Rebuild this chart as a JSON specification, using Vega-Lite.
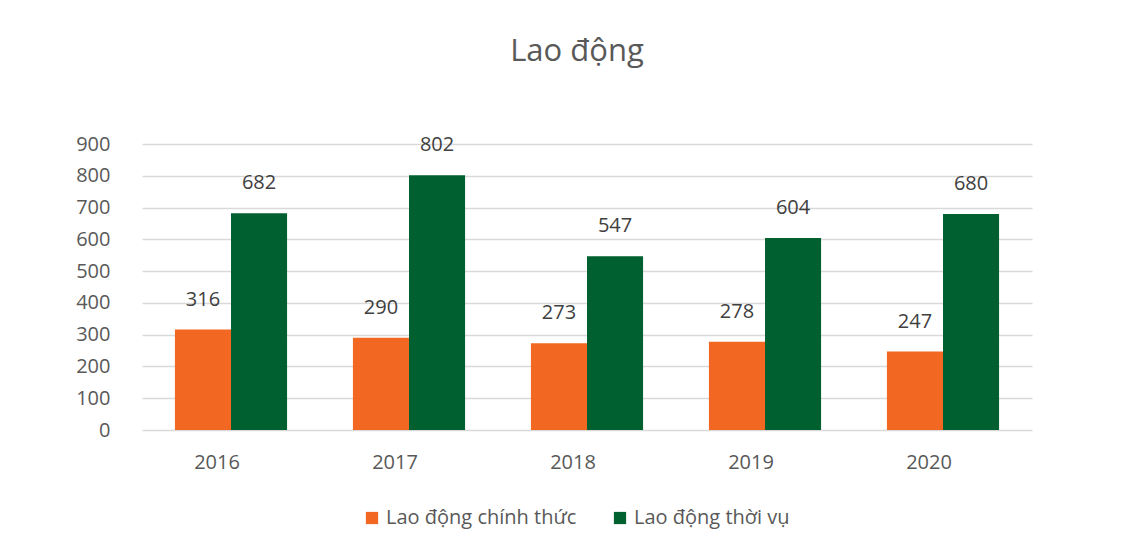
{
  "$schema": "https://vega.github.io/schema/vega-lite/v6.json",
  "autosize": "none",
  "width": 890,
  "height": 286,
  "padding": {"left": 142, "top": 144, "right": 100, "bottom": 121},
  "background": "white",
  "title": {
    "text": "Lao động",
    "fontSize": 31,
    "font": "Open Sans",
    "fontWeight": "normal",
    "color": "#595959",
    "anchor": "middle",
    "dx": -10,
    "offset": 66
  },
  "data": {
    "values": [
      {"year": "2016", "type": "Lao động chính thức", "value": 316},
      {"year": "2016", "type": "Lao động thời vụ", "value": 682},
      {"year": "2017", "type": "Lao động chính thức", "value": 290},
      {"year": "2017", "type": "Lao động thời vụ", "value": 802},
      {"year": "2018", "type": "Lao động chính thức", "value": 273},
      {"year": "2018", "type": "Lao động thời vụ", "value": 547},
      {"year": "2019", "type": "Lao động chính thức", "value": 278},
      {"year": "2019", "type": "Lao động thời vụ", "value": 604},
      {"year": "2020", "type": "Lao động chính thức", "value": 247},
      {"year": "2020", "type": "Lao động thời vụ", "value": 680}
    ]
  },
  "encoding": {
    "x": {
      "field": "year",
      "type": "nominal",
      "scale": {"paddingInner": 0.37, "paddingOuter": 0.185},
      "axis": {
        "title": null,
        "labelAngle": 0,
        "labelFontSize": 20,
        "labelFont": "Open Sans",
        "labelColor": "#595959",
        "labelPadding": 22,
        "labelOffset": -14,
        "domain": false,
        "ticks": false
      }
    },
    "xOffset": {"field": "type", "type": "nominal"},
    "y": {
      "field": "value",
      "type": "quantitative",
      "scale": {"domain": [0, 900]},
      "axis": {
        "title": null,
        "values": [0, 100, 200, 300, 400, 500, 600, 700, 800, 900],
        "labelFontSize": 20,
        "labelFont": "Open Sans",
        "labelColor": "#595959",
        "labelPadding": 32,
        "domain": false,
        "ticks": false,
        "gridColor": "#d9d9d9",
        "gridWidth": 1.5
      }
    }
  },
  "layer": [
    {
      "mark": {"type": "bar"},
      "encoding": {
        "color": {
          "field": "type",
          "type": "nominal",
          "scale": {"domain": ["Lao động chính thức", "Lao động thời vụ"], "range": ["#F26722", "#006030"]},
          "legend": {
            "title": null,
            "orient": "none",
            "direction": "horizontal",
            "legendX": 220,
            "legendY": 364,
            "symbolType": "square",
            "symbolSize": 150,
            "symbolStrokeWidth": 0,
            "symbolOpacity": 1,
            "labelFontSize": 20,
            "labelFont": "Open Sans",
            "labelColor": "#595959",
            "columnPadding": 33,
            "labelLimit": 300
          }
        }
      }
    },
    {
      "mark": {"type": "text", "baseline": "bottom", "dy": -20, "fontSize": 20, "font": "Open Sans", "color": "#404040"},
      "encoding": {"text": {"field": "value", "type": "quantitative"}}
    }
  ],
  "config": {"view": {"stroke": null}}
}
